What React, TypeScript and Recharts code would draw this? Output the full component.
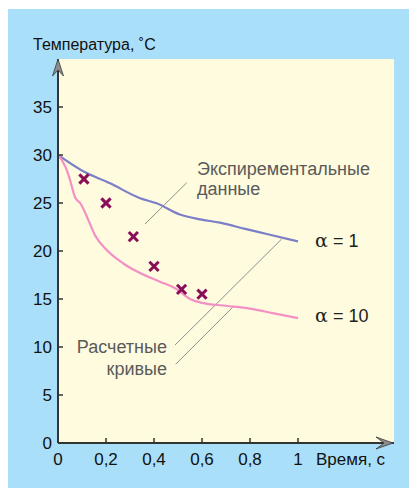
import React from 'react';
import {
  ComposedChart,
  Line,
  Scatter,
  XAxis,
  YAxis,
  ReferenceArea,
  ReferenceLine,
  ReferenceDot,
} from 'recharts';

// Time, s
const alpha1Time = [0, 0.105, 0.217, 0.342, 0.411, 0.508, 0.592, 0.675, 0.78, 0.87, 1.0];
// Temperature, °C (α = 1)
const alpha1Temp = [30, 28.3, 27.05, 25.5, 24.97, 23.8, 23.3, 22.95, 22.3, 21.77, 21.0];

const alpha10Time = [0, 0.02, 0.04, 0.05, 0.071, 0.095, 0.12, 0.155, 0.203, 0.272, 0.342, 0.425, 0.49, 0.55, 0.6, 0.7, 0.8, 0.9, 1.0];
const alpha10Temp = [30, 29.3, 28.2, 27.4, 25.6, 24.9, 23.6, 21.6, 20.1, 18.7, 17.7, 16.8, 16.1, 15.0, 14.6, 14.3, 14.0, 13.5, 13.0];

const expTime = [0.108, 0.2, 0.314, 0.4, 0.515, 0.6];
const expTemp = [27.5, 25.0, 21.5, 18.4, 16.0, 15.5];

const xTicks = [0, 0.2, 0.4, 0.6, 0.8, 1];
const yTicks = [0, 5, 10, 15, 20, 25, 30, 35];

const X_MAX = 1.4;
const Y_MAX = 40;

const alpha1Data = alpha1Time.map((t, i) => ({ t, T: alpha1Temp[i] }));
const alpha10Data = alpha10Time.map((t, i) => ({ t, T: alpha10Temp[i] }));
const expData = expTime.map((t, i) => ({ t, T: expTemp[i] }));

const NARROW = "'Liberation Sans Narrow', 'Arial Narrow', 'Liberation Sans', sans-serif";
const REGULAR = "'Liberation Sans', Arial, sans-serif";
const TEXT_GRAY = '#5a5a5a';
const LEADER = '#8e8e8e';

const XMarker = (props: any) => {
  const { cx, cy } = props;
  const s = 4.6;
  return (
    <g stroke="#8a0d57" strokeWidth={3} strokeLinecap="butt">
      <line x1={cx - s} y1={cy - s} x2={cx + s} y2={cy + s} />
      <line x1={cx - s} y1={cy + s} x2={cx + s} y2={cy - s} />
    </g>
  );
};

const textShape = (
  text: string,
  opts: { dx?: number; dy?: number; anchor?: string; size?: number; family?: string; fill?: string }
) => (p: any) => (
  <text
    x={p.cx + (opts.dx || 0)}
    y={p.cy + (opts.dy || 0)}
    textAnchor={opts.anchor || 'start'}
    fontSize={opts.size || 18}
    fontFamily={opts.family || REGULAR}
    fill={opts.fill || TEXT_GRAY}
  >
    {text}
  </text>
);

const alphaShape = (value: string) => (p: any) => (
  <text x={p.cx} y={p.cy} fontSize={18} fontFamily={REGULAR} fill="#222">
    <tspan fontFamily="'DejaVu Serif', 'Liberation Serif', serif" fontSize={19}>α</tspan>
    <tspan> = {value}</tspan>
  </text>
);

const yArrow = (p: any) => {
  const x = p.cx;
  const y = p.cy;
  return (
    <path
      d={`M${x},${y} L${x + 5.5},${y + 17} L${x},${y + 11} L${x - 5.5},${y + 17} Z`}
      fill="#8c8c8c"
      stroke="#3a3a3a"
      strokeWidth={0.8}
    />
  );
};

const xArrow = (p: any) => {
  const x = p.cx - 1;
  const y = p.cy;
  return (
    <path
      d={`M${x},${y} L${x - 17},${y - 6} L${x - 9},${y} L${x - 17},${y + 6} Z`}
      fill="#8c8c8c"
      stroke="#3a3a3a"
      strokeWidth={0.8}
    />
  );
};

export default function App() {
  return (
    <div
      style={{
        width: 410,
        height: 479,
        marginLeft: -1,
        marginTop: 1,
        background: '#aadff9',
      }}
    >
      <ComposedChart width={410} height={479} margin={{ top: 50, right: 23, left: 0, bottom: 0 }}>
        <ReferenceArea x1={0} x2={X_MAX} y1={0} y2={Y_MAX} fill="#fefbde" fillOpacity={1} stroke="none" />
        <XAxis
          type="number"
          dataKey="t"
          domain={[0, X_MAX]}
          ticks={xTicks}
          allowDataOverflow
          height={45}
          tickSize={-5}
          tickMargin={15}
          tickFormatter={(v: number) => String(v).replace('.', ',')}
          tick={{ fill: '#111', fontSize: 17, fontFamily: NARROW }}
          axisLine={{ stroke: '#333', strokeWidth: 2 }}
          tickLine={{ stroke: '#333', strokeWidth: 1.5 }}
        />
        <YAxis
          type="number"
          domain={[0, Y_MAX]}
          ticks={yTicks}
          allowDataOverflow
          width={51}
          tickSize={-5}
          tickMargin={11}
          tick={{ fill: '#111', fontSize: 17, fontFamily: NARROW }}
          axisLine={{ stroke: '#333', strokeWidth: 2 }}
          tickLine={{ stroke: '#333', strokeWidth: 1.5 }}
        />

        <ReferenceLine segment={[{ x: 0.362, y: 22.8 }, { x: 0.536, y: 27.1 }]} stroke={LEADER} strokeWidth={1} />
        <ReferenceLine segment={[{ x: 0.932, y: 21.25 }, { x: 0.4875, y: 10.2 }]} stroke={LEADER} strokeWidth={1} />
        <ReferenceLine segment={[{ x: 0.73, y: 14.2 }, { x: 0.49, y: 8.2 }]} stroke={LEADER} strokeWidth={1} />

        <Line
          data={alpha1Data}
          dataKey="T"
          type="monotone"
          stroke="#7b7fc8"
          strokeWidth={2.2}
          dot={false}
          activeDot={false}
          isAnimationActive={false}
        />
        <Line
          data={alpha10Data}
          dataKey="T"
          type="monotone"
          stroke="#f390c4"
          strokeWidth={2.2}
          dot={false}
          activeDot={false}
          isAnimationActive={false}
        />
        <Scatter data={expData} dataKey="T" shape={XMarker} isAnimationActive={false} />

        <ReferenceDot x={0} y={Y_MAX} r={1} ifOverflow="visible" shape={yArrow} />
        <ReferenceDot x={X_MAX} y={0} r={1} ifOverflow="visible" shape={xArrow} />

        <ReferenceDot
          x={0}
          y={Y_MAX}
          r={1}
          ifOverflow="visible"
          shape={textShape('Температура, ˚С', { dx: -25, dy: -9, size: 16, family: NARROW, fill: '#111' })}
        />
        <ReferenceDot
          x={1.075}
          y={0}
          r={1}
          ifOverflow="visible"
          shape={textShape('Время, с', { dy: 22, size: 17, family: NARROW, fill: '#111' })}
        />
        <ReferenceDot x={0.579} y={27.9} r={1} ifOverflow="visible" shape={textShape('Экспирементальные', {})} />
        <ReferenceDot x={0.579} y={25.8} r={1} ifOverflow="visible" shape={textShape('данные', {})} />
        <ReferenceDot x={0.454} y={9.375} r={1} ifOverflow="visible" shape={textShape('Расчетные', { anchor: 'end' })} />
        <ReferenceDot x={0.454} y={7.08} r={1} ifOverflow="visible" shape={textShape('кривые', { anchor: 'end' })} />
        <ReferenceDot x={1.071} y={20.45} r={1} ifOverflow="visible" shape={alphaShape('1')} />
        <ReferenceDot x={1.071} y={12.6} r={1} ifOverflow="visible" shape={alphaShape('10')} />
      </ComposedChart>
    </div>
  );
}
